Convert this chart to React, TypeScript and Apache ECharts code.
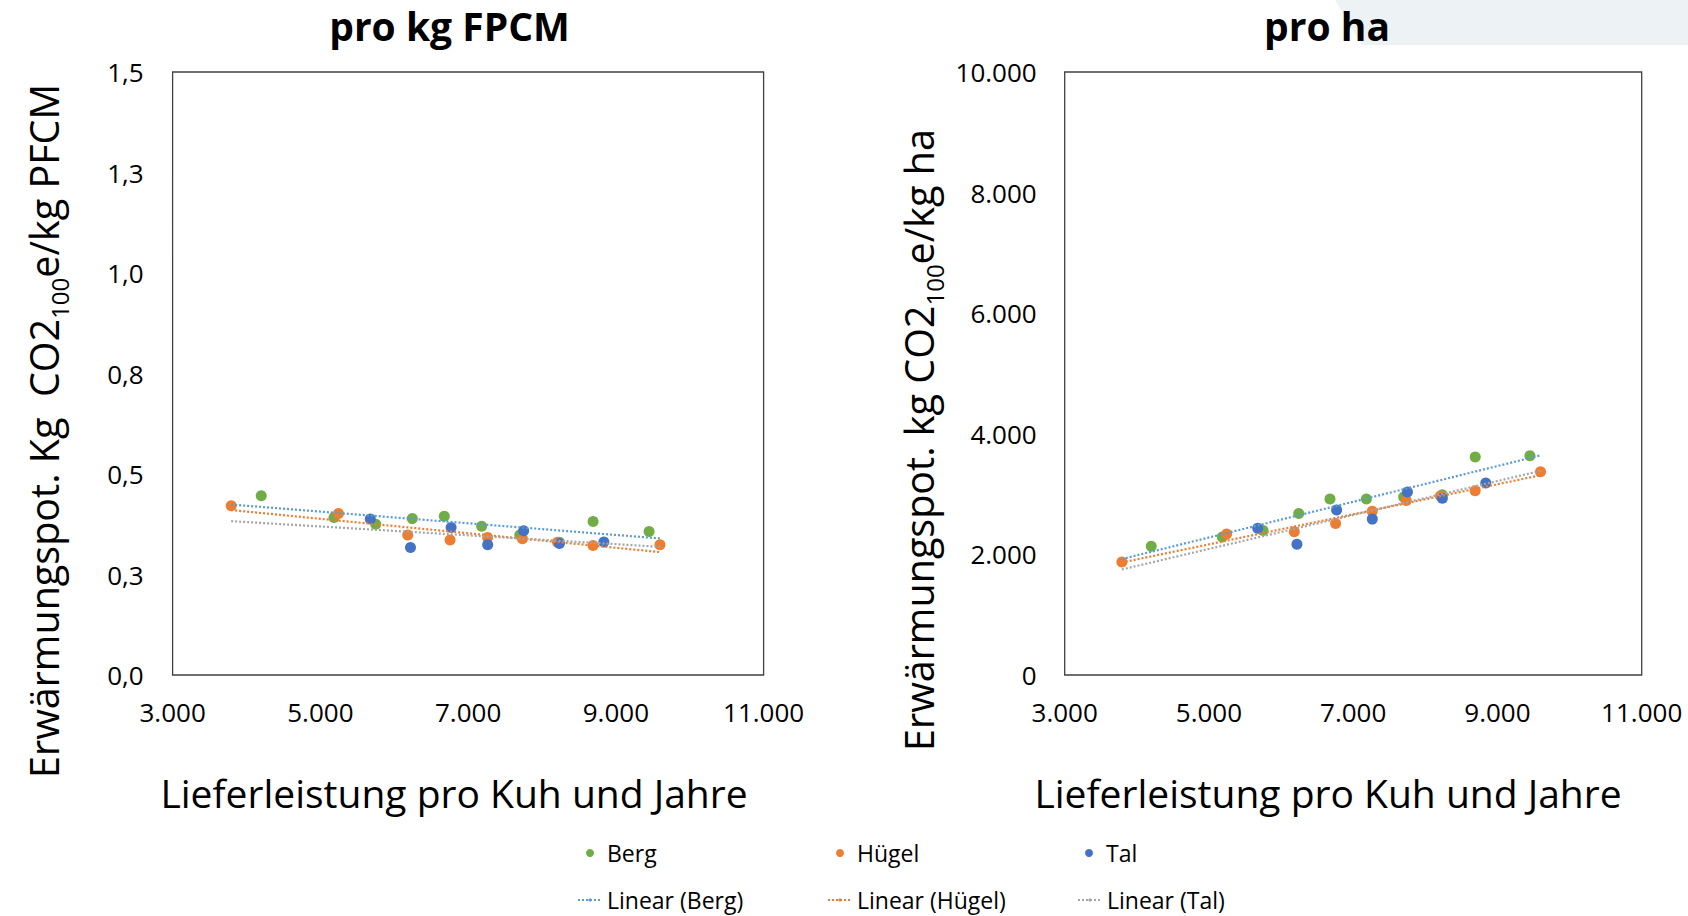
import React, { useEffect, useRef } from "react";
import * as echarts from "echarts";

// ---- data ----
const bergX = [4200, 5185, 5750, 6245, 6678, 7183, 7700, 8235, 8692, 9450];
const bergKg = [0.446, 0.392, 0.375, 0.389, 0.395, 0.370, 0.348, 0.330, 0.382, 0.357];
const bergHa = [2134, 2288, 2395, 2680, 2919, 2919, 2952, 2988, 3615, 3637];

const huegelX = [3793, 5245, 6183, 6756, 7264, 7735, 8210, 8691, 9597];
const huegelKg = [0.421, 0.402, 0.348, 0.336, 0.342, 0.339, 0.330, 0.322, 0.324];
const huegelHa = [1874, 2338, 2377, 2512, 2715, 2894, 2969, 3054, 3371];

const talX = [5676, 6220, 6770, 7265, 7752, 8236, 8838];
const talKg = [0.388, 0.317, 0.367, 0.324, 0.359, 0.327, 0.331];
const talHa = [2433, 2167, 2736, 2585, 3035, 2932, 3184];

const groupNames = ["Berg", "Hügel", "Tal"];
const trendNames = ["Linear (Berg)", "Linear (Hügel)", "Linear (Tal)"];
const xTitle = "Lieferleistung pro Kuh und Jahre";

const FONT = "Open Sans";
const markerColors = ["#70AD47", "#ED7D31", "#4472C4"];
const trendColors = ["#5B9BD5", "#ED7D31", "#A5A5A5"];

function zip(xs: number[], ys: number[]) {
  return xs.map((x, i) => [x, ys[i]]);
}

// least-squares trendline (as the spreadsheet's "Linear" trendline)
function trend(xs: number[], ys: number[], x0: number, x1: number) {
  const n = xs.length;
  const mx = xs.reduce((a, b) => a + b, 0) / n;
  const my = ys.reduce((a, b) => a + b, 0) / n;
  let sxy = 0;
  let sxx = 0;
  for (let i = 0; i < n; i++) {
    sxy += (xs[i] - mx) * (ys[i] - my);
    sxx += (xs[i] - mx) * (xs[i] - mx);
  }
  const b = sxy / sxx;
  const a = my - b * mx;
  return [
    [x0, a + b * x0],
    [x1, a + b * x1],
  ];
}

const thousands = (v: number) =>
  Math.round(v)
    .toString()
    .replace(/\B(?=(\d{3})+(?!\d))/g, ".");

export default function App() {
  const ref = useRef<HTMLDivElement>(null);

  useEffect(() => {
    if (!ref.current) return;
    const chart = echarts.init(ref.current, null, { renderer: "svg" });

    const allX = [...bergX, ...huegelX, ...talX];
    const xMin = Math.min(...allX);
    const xMax = Math.max(...allX);

    const groupsKg = [
      [bergX, bergKg],
      [huegelX, huegelKg],
      [talX, talKg],
    ];
    const groupsHa = [
      [bergX, bergHa],
      [huegelX, huegelHa],
      [talX, talHa],
    ];

    const series: any[] = [];
    [groupsKg, groupsHa].forEach((groups, gi) => {
      groups.forEach(([xs, ys], k) => {
        series.push({
          name: groupNames[k],
          type: "scatter",
          xAxisIndex: gi,
          yAxisIndex: gi,
          data: zip(xs as number[], ys as number[]),
          symbolSize: 11,
          itemStyle: { color: markerColors[k], opacity: 1 },
          z: 2 + k,
        });
      });
      groups.forEach(([xs, ys], k) => {
        series.push({
          name: trendNames[k],
          type: "line",
          xAxisIndex: gi,
          yAxisIndex: gi,
          data: trend(xs as number[], ys as number[], xMin, xMax),
          symbol: "none",
          lineStyle: { color: trendColors[k], width: 2.2, type: [2, 2] },
          itemStyle: { color: trendColors[k] },
          z: 6,
        });
      });
    });

    const baseAxis = {
      type: "value",
      axisLine: { show: false },
      axisTick: { show: false },
      splitLine: { show: false },
    };

    const xAxisCommon = (gi: number) => ({
      ...baseAxis,
      gridIndex: gi,
      min: 3000,
      max: 11000,
      interval: 2000,
      showMinLabel: true,
      showMaxLabel: true,
      axisLabel: {
        formatter: (v: number) => thousands(v),
        fontSize: 26,
        color: "#000",
        fontFamily: FONT,
        margin: 24,
      },
    });

    const yName = (kgWord: string, tail: string) =>
      `{m|Erwärmungspot. ${kgWord}CO2}{s|100}{m|e/kg ${tail}}`;

    const yRich = {
      m: { fontSize: 39.5, fill: "#000", fontFamily: FONT, lineHeight: 48, verticalAlign: "bottom" },
      s: { fontSize: 24, fill: "#000", fontFamily: FONT, lineHeight: 24, verticalAlign: "bottom", padding: [0, 0, -7, 0] },
    };

    const legendItem = (name: string, left: number, top: number, isLine: boolean) => ({
      data: [name],
      left,
      top,
      padding: 0,
      orient: "horizontal",
      itemWidth: 24,
      itemHeight: isLine ? 4 : 8,
      icon: isLine ? undefined : "circle",
      textStyle: { fontSize: 23, color: "#000", fontFamily: FONT, lineHeight: 26 },
      selectedMode: false,
    });

    const titleText = (text: string, x: number) => ({
      type: "text",
      x,
      y: 25,
      style: {
        text,
        fontSize: 39,
        lineHeight: 40,
        fontWeight: "bold",
        fontFamily: FONT,
        fill: "#000",
        align: "center",
        verticalAlign: "middle",
      },
    });

    const xTitleText = (x: number) => ({
      type: "text",
      x,
      y: 792,
      style: {
        text: xTitle,
        fontSize: 39,
        fontFamily: FONT,
        fill: "#000",
        align: "center",
        verticalAlign: "middle",
      },
    });

    const yTitleText = (text: string, x: number, y: number) => ({
      type: "text",
      x,
      y,
      rotation: Math.PI / 2,
      style: {
        text,
        rich: yRich,
        align: "center",
        verticalAlign: "middle",
      },
    });

    chart.setOption({
      animation: false,
      backgroundColor: "#fff",
      graphic: [
        {
          type: "polygon",
          shape: { points: [[1335, 0], [1688, 0], [1688, 45], [1362, 45]] },
          style: { fill: "#EDF2F5" },
          z: -1,
          silent: true,
        },
        titleText("pro kg FPCM", 449.5),
        titleText("pro ha", 1327),
        xTitleText(454),
        xTitleText(1328),
        yTitleText(yName("Kg  ", "PFCM"), 40, 431),
        yTitleText(yName("kg ", "ha"), 915, 440),
      ],
      grid: [
        { left: 172.6, top: 72, width: 591, height: 603, show: true, borderColor: "#404040", borderWidth: 1.3, backgroundColor: "transparent" },
        { left: 1064.7, top: 72, width: 577, height: 603, show: true, borderColor: "#404040", borderWidth: 1.3, backgroundColor: "transparent" },
      ],
      xAxis: [xAxisCommon(0), xAxisCommon(1)],
      yAxis: [
        {
          ...baseAxis,
          gridIndex: 0,
          min: 0,
          max: 1.5,
          interval: 0.25,
          showMinLabel: true,
          showMaxLabel: true,
          axisLabel: {
            formatter: (v: number) => v.toFixed(1).replace(".", ","),
            fontSize: 26,
            color: "#000",
            fontFamily: FONT,
            margin: 29,
          },
        },
        {
          ...baseAxis,
          gridIndex: 1,
          min: 0,
          max: 10000,
          interval: 2000,
          showMinLabel: true,
          showMaxLabel: true,
          axisLabel: {
            formatter: (v: number) => thousands(v),
            fontSize: 26,
            color: "#000",
            fontFamily: FONT,
            margin: 28,
          },
        },
      ],
      legend: [
        legendItem("Berg", 586, 840, false),
        legendItem("Hügel", 836, 840, false),
        legendItem("Tal", 1085, 840, false),
        legendItem("Linear (Berg)", 577, 887, true),
        legendItem("Linear (Hügel)", 827, 887, true),
        legendItem("Linear (Tal)", 1077, 887, true),
      ],
      series,
    });

    return () => chart.dispose();
  }, []);

  return (
    <div
      ref={ref}
      style={{ position: "fixed", left: 0, top: 0, width: 1688, height: 916, background: "#fff" }}
    />
  );
}
